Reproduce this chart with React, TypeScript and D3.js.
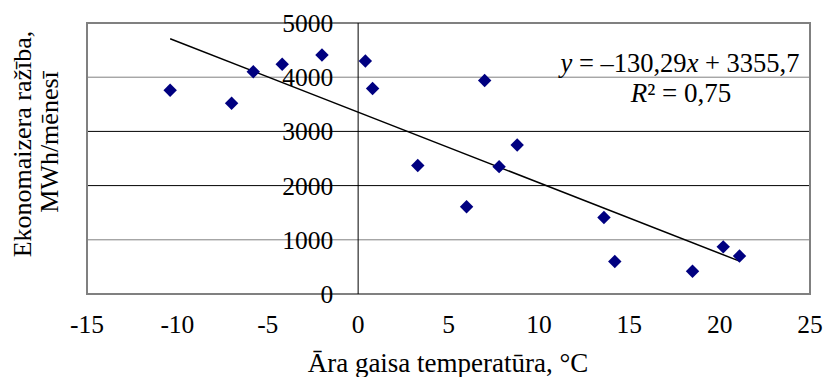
import React from "react";
import * as d3 from "d3";

const xValues = [-10.4, -7.0, -5.8, -4.2, -2.0, 0.4, 0.8, 3.3, 7.0, 7.8, 8.8, 6.0, 13.6, 14.2, 18.5, 20.2, 21.1];
const yValues = [3760, 3520, 4100, 4240, 4410, 4300, 3790, 2370, 3940, 2350, 2750, 1610, 1410, 600, 420, 870, 700];
const xTicks = [-15, -10, -5, 0, 5, 10, 15, 20, 25];
const yTicks = [0, 1000, 2000, 3000, 4000, 5000];
const slope = -130.29;
const intercept = 3355.7;

const W = 823, H = 377;
const M = { left: 87, right: 810, top: 23, bottom: 294 };
const FONT = "Liberation Serif, Times New Roman, serif";

export default function App() {
  const x = d3.scaleLinear().domain([-15, 25]).range([M.left, M.right]);
  const y = d3.scaleLinear().domain([0, 5000]).range([M.bottom, M.top]);
  const xMin = d3.min(xValues) as number;
  const xMax = d3.max(xValues) as number;
  const trend = d3.line<number>().x((d) => x(d)).y((d) => y(slope * d + intercept));
  const diamond = d3.symbol().type(d3.symbolDiamond2).size(115)();
  const gridColor = (t: number) => (t === 2000 || t === 3000 ? "#000" : "#808080");
  return (
    <svg width={W} height={H} style={{ position: "absolute", left: 0, top: 0, background: "#fff", fontFamily: FONT }}>
      {yTicks.filter((t) => t > 0 && t < 5000).map((t) => (
        <line key={t} x1={M.left} x2={M.right} y1={y(t)} y2={y(t)} stroke={gridColor(t)} strokeWidth={1} />
      ))}
      <rect x={M.left} y={M.top} width={M.right - M.left} height={M.bottom - M.top} fill="none" stroke="#808080" strokeWidth={2} />
      <line x1={x(0)} x2={x(0)} y1={M.top} y2={M.bottom} stroke="#000" strokeWidth={1} />
      {yTicks.map((t) => (
        <text key={t} x={x(0) - 25} y={y(t)} dy="0.35em" textAnchor="end" fontSize={25.5} fill="#000">{t}</text>
      ))}
      {xTicks.map((t) => (
        <text key={t} x={x(t)} y={333} textAnchor="middle" fontSize={25.5} fill="#000">{t}</text>
      ))}
      <path d={trend([xMin, xMax]) || ""} stroke="#000" strokeWidth={1.5} fill="none" />
      {xValues.map((xv, i) => (
        <path key={i} d={diamond || ""} transform={`translate(${x(xv)},${y(yValues[i])})`} fill="#000080" />
      ))}
      <text x={680} y={72} textAnchor="middle" fontSize={26.5} fill="#000">
        <tspan fontStyle="italic">y</tspan> = –130,29<tspan fontStyle="italic">x</tspan> + 3355,7
      </text>
      <text x={681} y={102} textAnchor="middle" fontSize={27} fill="#000">
        <tspan fontStyle="italic">R</tspan>² = 0,75
      </text>
      <text x={448} y={372} textAnchor="middle" fontSize={27} fill="#000">Āra gaisa temperatūra, °C</text>
      <text transform="translate(31,144) rotate(-90)" textAnchor="middle" fontSize={26} fill="#000">Ekonomaizera ražība,</text>
      <text transform="translate(58,142) rotate(-90)" textAnchor="middle" fontSize={26} fill="#000">MWh/mēnesī</text>
    </svg>
  );
}
